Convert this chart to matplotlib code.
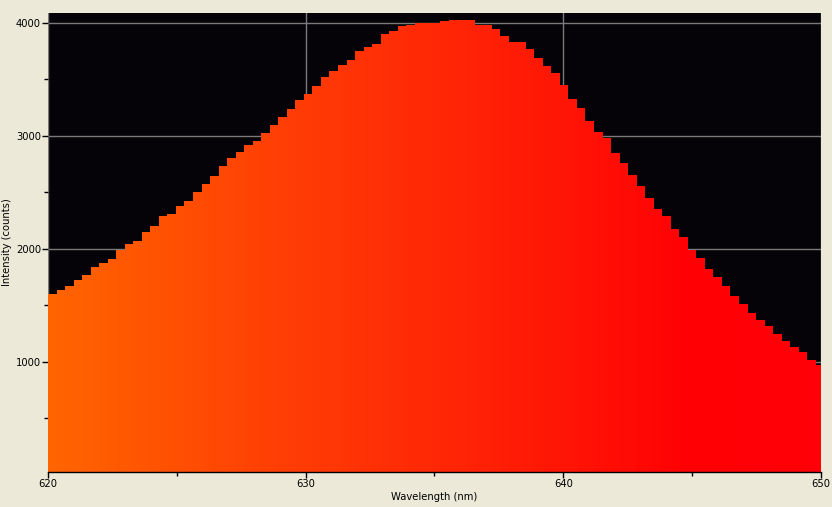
import numpy as np
import matplotlib as mpl
mpl.use('Agg')
import matplotlib.pyplot as plt
from matplotlib.colors import LinearSegmentedColormap

# spectrum: 91 bins, ~0.331 nm each, from 620 nm
WL_START = 620.0
WL_STEP = 0.331
counts = [
    1600, 1635, 1671, 1724, 1768, 1839, 1874, 1910, 1989, 2042,
    2069, 2149, 2202, 2290, 2308, 2379, 2423, 2503, 2573, 2644,
    2733, 2804, 2857, 2919, 2954, 3025, 3096, 3167, 3237, 3317,
    3370, 3441, 3520, 3573, 3627, 3671, 3750, 3786, 3812, 3901,
    3927, 3972, 3981, 3998, 3998, 3998, 4016, 4025, 4025, 4025,
    3981, 3981, 3945, 3883, 3830, 3830, 3768, 3688, 3618, 3556,
    3449, 3326, 3246, 3131, 3034, 2981, 2848, 2759, 2653, 2556,
    2449, 2352, 2290, 2175, 2104, 1989, 1918, 1821, 1750, 1671,
    1582, 1511, 1432, 1370, 1317, 1246, 1184, 1131, 1087, 1016,
    972,
]
wavelength = [WL_START + i * WL_STEP for i in range(len(counts))]

x_ticks = [620, 630, 640, 650]
y_ticks = [1000, 2000, 3000, 4000]

FIG_BG = '#ECE9D8'
PLOT_BG = '#050307'

spec_cmap = LinearSegmentedColormap.from_list(
    'spec', [(0.0, '#FF6400'), (0.333, '#FF3A05'), (0.667, '#FF1505'),
             (0.833, '#FF0004'), (1.0, '#FF0008')])

fig = plt.figure(figsize=(8.32, 5.07), dpi=100, facecolor=FIG_BG)
ax = fig.add_axes([48 / 832, 35 / 507, 773 / 832, 459 / 507])
ax.set_facecolor(PLOT_BG)

colors = [spec_cmap((w + WL_STEP / 2 - 620) / 30) for w in wavelength]
ax.bar(wavelength, counts, width=WL_STEP * 1.02, align='edge', color=colors,
       linewidth=0, antialiased=False, zorder=2)

ax.set_xlim(620, 650)
ax.set_ylim(25, 4088)
ax.set_xticks(x_ticks)
ax.set_yticks(y_ticks)
ax.set_xticks([625, 635, 645], minor=True)
ax.set_yticks([500, 1500, 2500, 3500], minor=True)
ax.grid(True, which='major', color='#7A7A7A', linewidth=1.0, zorder=1)
ax.set_axisbelow(True)

for s in ['top', 'right']:
    ax.spines[s].set_visible(False)
ax.spines['left'].set_visible(False)
ax.spines['bottom'].set_color('black')
ax.spines['bottom'].set_linewidth(1.0)
ax.spines['bottom'].set_zorder(3)

ax.tick_params(which='major', length=4, width=1, color='black',
               labelsize=7.2, pad=1)
ax.tick_params(which='minor', length=3, width=1, color='black')

ax.set_xlabel('Wavelength (nm)', fontsize=7.2, labelpad=2)
ax.set_ylabel('Intensity (counts)', fontsize=7.2)
ax.yaxis.set_label_coords(-0.046, 0.5)

fig.savefig('out.png', dpi=100, facecolor=FIG_BG)
